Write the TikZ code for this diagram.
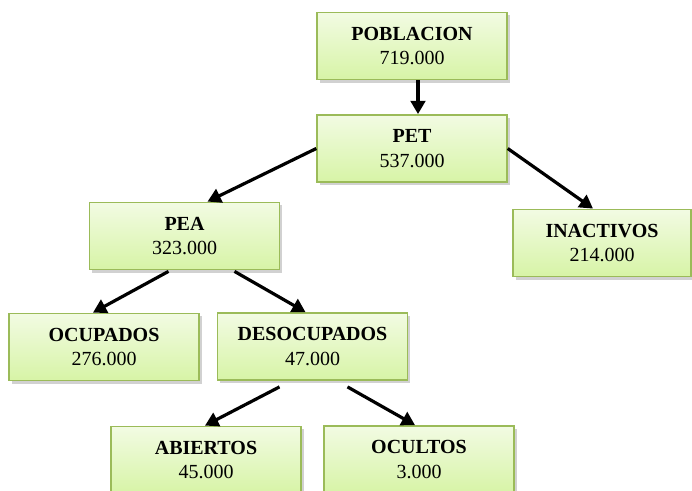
\documentclass[tikz,border=0pt]{standalone}
\usepackage{fontspec}
\setmainfont{Liberation Serif}
\usetikzlibrary{arrows.meta,shadows,calc}
\definecolor{boxline}{HTML}{9BBB59}
\definecolor{boxtop}{HTML}{F2FBE3}
\definecolor{boxbot}{HTML}{D7F4A6}
\tikzset{
  caja/.style={draw=boxline, line width=1.1pt, top color=boxtop, bottom color=boxbot,
    minimum width=142.5pt, minimum height=50.5pt, align=center, inner sep=0pt,
    font=\fontsize{15}{18.5}\selectfont,
    drop shadow={shadow xshift=2.2pt, shadow yshift=-2.2pt, opacity=0.3, fill=black!60}},
  flecha/.style={line width=2.4pt, -{Triangle[length=10pt,width=11pt]}}
}
\begin{document}
\begin{tikzpicture}[x=0.75pt,y=-0.75pt]
  \useasboundingbox (0,0) rectangle (692,491);
  % cajas
  \node[caja] (pob) at (412,46) {\textbf{POBLACION}\\719.000};
  \node[caja] (pet) at (412,148.5) {\textbf{PET}\\537.000};
  \node[caja] (pea) at (184.5,236) {\textbf{PEA}\\323.000};
  \node[caja, minimum width=133.5pt] (inac) at (602,243) {\textbf{INACTIVOS}\\214.000};
  \node[caja] (ocup) at (104,347) {\textbf{OCUPADOS}\\276.000};
  \node[caja] (desoc) at (312.5,346.5) {\textbf{DESOCUPADOS}\\47.000};
  \node[caja] (abie) at (206,460) {\textbf{ABIERTOS}\\45.000};
  \node[caja] (ocul) at (419,459.5) {\textbf{OCULTOS}\\3.000};
  % flechas
  \draw[flecha] ($(pob.south)+(6,0)$) -- ($(pet.north)+(6,0)$);
  \draw[flecha] (pet.west) -- ($(pea.north)+(23,0)$);
  \draw[flecha] (pet.east) -- ($(inac.north)+(-9,0)$);
  \draw[flecha] ($(pea.south)+(-16,1)$) -- ($(ocup.north)+(-11,0)$);
  \draw[flecha] ($(pea.south)+(50,1)$) -- ($(desoc.north)+(-7,0)$);
  \draw[flecha] ($(desoc.south)+(-33,6)$) -- ($(abie.north)+(-1,0)$);
  \draw[flecha] ($(desoc.south)+(35,6)$) -- ($(ocul.north)+(-4,0)$);
\end{tikzpicture}
\end{document}
